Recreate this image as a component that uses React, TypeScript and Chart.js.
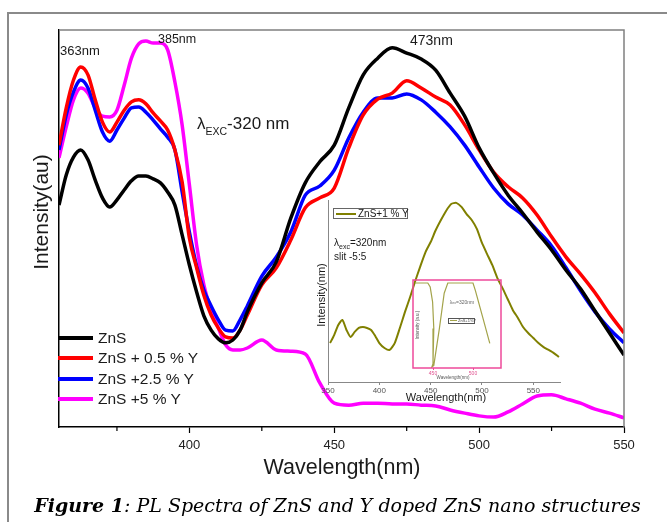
import React, { useEffect, useRef } from "react";
import { Chart, registerables } from "chart.js";
Chart.register(...registerables);

// ---------- main chart data ----------
const wavelengths = [355, 357.5, 360, 362.5, 365, 367.5, 370, 372.5, 375, 377.5, 380, 382.5, 385, 387.5, 390, 392.5, 395, 397.5, 400, 402.5, 405, 407.5, 410, 412.5, 415, 417.5, 420, 425, 430, 435, 440, 445, 450, 455, 460, 465, 470, 475, 480, 485, 490, 495, 500, 505, 510, 515, 520, 525, 530, 535, 540, 545, 550];
const znsPure = [55.9, 63.5, 68.0, 69.8, 67.3, 62.2, 57.7, 55.4, 57.2, 59.7, 62.0, 63.2, 63.2, 62.5, 61.5, 59.2, 55.9, 48.4, 40.8, 34.0, 28.0, 24.4, 22.2, 21.2, 21.9, 24.4, 29.0, 36.3, 41.6, 52.6, 61.5, 66.8, 71.0, 80.4, 88.7, 92.9, 95.5, 94.2, 92.7, 89.9, 84.1, 78.3, 70.3, 64.0, 58.4, 53.9, 49.1, 44.6, 39.5, 34.8, 29.2, 23.7, 18.1];
const zns05Y = [71.0, 80.4, 87.4, 90.7, 88.7, 82.4, 76.8, 74.3, 76.8, 79.8, 81.9, 82.4, 81.4, 79.1, 77.1, 74.8, 69.8, 61.7, 47.6, 40.1, 33.2, 28.2, 24.9, 22.7, 22.4, 24.4, 28.2, 35.8, 40.1, 47.1, 55.2, 57.7, 60.2, 70.3, 78.6, 82.6, 84.1, 87.2, 85.4, 83.1, 81.1, 76.1, 69.8, 64.2, 60.5, 57.7, 53.4, 47.9, 42.8, 38.5, 33.8, 28.5, 23.7];
const zns25Y = [69.8, 78.6, 84.4, 87.4, 85.4, 79.8, 74.3, 72.0, 74.8, 77.8, 80.4, 80.6, 79.3, 77.3, 75.1, 73.0, 69.8, 59.2, 49.1, 40.6, 34.5, 30.5, 27.0, 24.4, 24.2, 27.0, 30.5, 38.0, 42.8, 49.1, 58.4, 60.7, 64.7, 72.8, 79.3, 82.9, 82.9, 83.9, 82.4, 79.3, 75.6, 71.0, 65.5, 60.2, 56.2, 53.4, 49.6, 45.6, 40.1, 34.3, 29.0, 24.7, 21.2];
const zns5Y = [67.8, 75.6, 82.4, 85.4, 84.1, 80.4, 78.3, 78.1, 79.8, 86.1, 92.9, 96.5, 97.2, 96.7, 96.7, 95.0, 86.9, 76.1, 61.0, 45.8, 35.8, 29.5, 24.9, 20.7, 19.4, 19.4, 19.9, 21.9, 19.4, 19.1, 18.4, 11.1, 6.0, 5.5, 6.0, 6.0, 5.8, 5.8, 5.5, 5.3, 4.3, 3.5, 2.8, 2.5, 3.8, 5.8, 7.8, 8.1, 7.1, 6.0, 4.5, 3.5, 2.3];
const seriesLabels = ["ZnS", "ZnS + 0.5 % Y", "ZnS +2.5 % Y", "ZnS +5 % Y"];
const seriesColors = ["#000000", "#ff0000", "#0000ff", "#ff00ff"];
const xTicks = [400, 450, 500, 550];
const xMinorTicks = [375, 425, 475, 525];

// ---------- inset data ----------
const insetWavelengths = [352, 356, 360, 364, 368, 372, 376, 380, 384, 388, 392, 396, 400, 405, 410, 415, 420, 425, 430, 435, 440, 445, 450, 455, 460, 465, 470, 475, 480, 485, 490, 495, 500, 505, 510, 515, 520, 525, 530, 535, 540, 545, 550, 555, 560, 565, 570, 575];
const insetZnS1Y = [21.4, 25.8, 31.3, 34.1, 28.6, 24.7, 27.5, 29.7, 30.2, 29.7, 28.6, 25.3, 21.4, 18.7, 17.6, 21.4, 29.7, 38.5, 46.7, 55.5, 63.7, 71.4, 76.9, 83.5, 89.0, 94.0, 97.8, 98.4, 96.2, 92.3, 89.0, 84.1, 76.4, 70.3, 64.3, 57.1, 51.6, 45.6, 39.6, 35.2, 30.2, 26.9, 24.2, 21.4, 19.2, 17.6, 15.9, 13.7];
const insetTicks = [350, 400, 450, 500, 550];

// ---------- nested (tiny) inset data ----------
const nestedX = [427.5, 443.5, 446.5, 449.5, 451, 450, 448.5, 451, 458, 464, 468.5, 500, 503, 512, 521];
const nestedY = [96.6, 96.6, 92, 75, 45, 5, 1, 3, 45, 85, 96.6, 96.6, 88, 58, 28];
const nestedTicks = [450, 500];

const FONT = "'Liberation Sans', Arial, sans-serif";
const TXT = "#1a1a1a";

const setTicks = (vals: number[]) => (s: any) => {
  s.ticks = vals.map((v) => ({ value: v }));
};

const mainDecor = {
  id: "mainDecor",
  afterDraw(chart: any) {
    const { ctx, chartArea: a } = chart;
    const xs = chart.scales.x;
    ctx.save();
    ctx.strokeStyle = "#808080";
    ctx.lineWidth = 1.5;
    ctx.beginPath();
    ctx.moveTo(a.left, a.top);
    ctx.lineTo(a.right, a.top);
    ctx.lineTo(a.right, a.bottom);
    ctx.stroke();
    ctx.strokeStyle = "#000";
    ctx.lineWidth = 1.2;
    ctx.beginPath();
    xMinorTicks.forEach((v) => {
      const px = xs.getPixelForValue(v);
      ctx.moveTo(px, a.bottom);
      ctx.lineTo(px, a.bottom + 4);
    });
    ctx.stroke();
    ctx.restore();
  },
};

const nestedBox = {
  id: "nestedBox",
  afterDraw(chart: any) {
    const { ctx, chartArea: a } = chart;
    ctx.save();
    ctx.strokeStyle = "#ee4a9a";
    ctx.lineWidth = 1.5;
    ctx.strokeRect(a.left, a.top, a.right - a.left, a.bottom - a.top);
    ctx.restore();
  },
};

export default function App() {
  const mainRef = useRef<HTMLCanvasElement>(null);
  const insetRef = useRef<HTMLCanvasElement>(null);
  const nestedRef = useRef<HTMLCanvasElement>(null);

  useEffect(() => {
    const seriesValues = [znsPure, zns05Y, zns25Y, zns5Y];
    const main = new Chart(mainRef.current as HTMLCanvasElement, {
      type: "line",
      data: {
        datasets: seriesValues.map((vals, i) => ({
          label: seriesLabels[i],
          data: wavelengths.map((w, j) => ({ x: w, y: vals[j] })),
          borderColor: seriesColors[i],
          borderWidth: 3.5,
          pointRadius: 0,
          cubicInterpolationMode: "monotone",
          fill: false,
        })),
      },
      options: {
        responsive: false,
        animation: false,
        events: [],
        layout: { padding: { left: 0, top: 30, right: 43, bottom: 0 } },
        plugins: { legend: { display: false }, tooltip: { enabled: false } },
        scales: {
          x: {
            type: "linear",
            min: 355,
            max: 550,
            afterBuildTicks: setTicks(xTicks),
            afterFit: (s: any) => {
              s.height = 95;
            },
            ticks: { font: { family: FONT, size: 13 }, color: "#222", padding: 5, maxRotation: 0, autoSkip: false },
            grid: { drawOnChartArea: false, drawTicks: true, tickLength: 6, color: "#000", tickWidth: 1.2 },
            border: { display: true, color: "#000", width: 1.5 },
          },
          y: {
            min: 0,
            max: 100,
            afterFit: (s: any) => {
              s.width = 59;
            },
            ticks: { display: false },
            grid: { display: false },
            border: { display: true, color: "#000", width: 1.5 },
          },
        },
      } as any,
      plugins: [mainDecor],
    });

    const inset = new Chart(insetRef.current as HTMLCanvasElement, {
      type: "line",
      data: {
        datasets: [
          {
            label: "ZnS+1 % Y",
            data: insetWavelengths.map((w, j) => ({ x: w, y: insetZnS1Y[j] })),
            borderColor: "#808000",
            borderWidth: 2,
            pointRadius: 0,
            tension: 0.2,
            fill: false,
          },
        ],
      },
      options: {
        responsive: false,
        animation: false,
        events: [],
        layout: { padding: { left: 0, top: 5, right: 5, bottom: 0 } },
        plugins: { legend: { display: false }, tooltip: { enabled: false } },
        scales: {
          x: {
            type: "linear",
            min: 350,
            max: 576,
            afterBuildTicks: setTicks(insetTicks),
            afterFit: (s: any) => {
              s.height = 23;
            },
            ticks: { font: { family: FONT, size: 8 }, color: "#555", padding: 1, maxRotation: 0, autoSkip: false },
            grid: { drawOnChartArea: false, tickLength: 3, color: "#888" },
            border: { display: true, color: "#888", width: 1 },
          },
          y: {
            min: 0,
            max: 100,
            afterFit: (s: any) => {
              s.width = 28;
            },
            ticks: { display: false },
            grid: { display: false },
            border: { display: true, color: "#888", width: 1 },
          },
        },
      } as any,
    });

    const nested = new Chart(nestedRef.current as HTMLCanvasElement, {
      type: "line",
      data: {
        datasets: [
          {
            label: "ZnS+1%Y",
            data: nestedX.map((x, j) => ({ x, y: nestedY[j] })),
            borderColor: "#a3a34a",
            borderWidth: 1.2,
            pointRadius: 0,
            tension: 0,
            fill: false,
          },
        ],
      },
      options: {
        responsive: false,
        animation: false,
        events: [],
        layout: { padding: { left: 0, top: 4, right: 4, bottom: 0 } },
        plugins: { legend: { display: false }, tooltip: { enabled: false } },
        scales: {
          x: {
            type: "linear",
            min: 425,
            max: 535,
            afterBuildTicks: setTicks(nestedTicks),
            afterFit: (s: any) => {
              s.height = 18;
            },
            ticks: { font: { family: FONT, size: 5 }, color: "#e0508f", padding: 1, maxRotation: 0, autoSkip: false },
            grid: { drawOnChartArea: false, tickLength: 2, color: "#ee4a9a" },
            border: { display: false },
          },
          y: {
            min: 0,
            max: 100,
            afterFit: (s: any) => {
              s.width = 8;
            },
            ticks: { display: false },
            grid: { display: false },
            border: { display: false },
          },
        },
      } as any,
      plugins: [nestedBox],
    });

    return () => {
      main.destroy();
      inset.destroy();
      nested.destroy();
    };
  }, []);

  const abs = (s: React.CSSProperties): React.CSSProperties => ({ position: "absolute", whiteSpace: "nowrap", ...s });
  const legendY = [338, 358, 379, 399];

  return (
    <div style={{ position: "absolute", left: 0, top: 0, width: 667, height: 522, overflow: "hidden", background: "#fff", fontFamily: FONT, color: TXT }}>
      <div style={abs({ left: 7, top: 12, width: 680, height: 540, borderTop: "2px solid #8a8a8a", borderLeft: "2px solid #8a8a8a", boxSizing: "border-box" })} />
      <canvas ref={mainRef} width={667} height={522} style={{ position: "absolute", left: 0, top: 0, width: 667, height: 522 }} />
      <canvas ref={insetRef} width={265} height={210} style={{ position: "absolute", left: 300, top: 195, width: 265, height: 210 }} />
      <canvas ref={nestedRef} width={100} height={110} style={{ position: "absolute", left: 405, top: 276, width: 100, height: 110 }} />

      {/* main axis titles */}
      <div style={abs({ left: 40, top: 212, fontSize: 21, transform: "translate(-50%,-50%) rotate(-90deg)", lineHeight: 1 })}>Intensity(au)</div>
      <div style={abs({ left: 342, top: 468, fontSize: 21.5, transform: "translate(-50%,-50%)", lineHeight: 1 })}>Wavelength(nm)</div>

      {/* peak annotations */}
      <div style={abs({ left: 60, top: 50, fontSize: 13, transform: "translateY(-50%)", lineHeight: 1 })}>363nm</div>
      <div style={abs({ left: 158, top: 39, fontSize: 12.5, transform: "translateY(-50%)", lineHeight: 1 })}>385nm</div>
      <div style={abs({ left: 410, top: 40, fontSize: 14, transform: "translateY(-50%)", lineHeight: 1 })}>473nm</div>
      <div style={abs({ left: 197, top: 123, fontSize: 17, transform: "translateY(-50%)", lineHeight: 1 })}>
        λ<span style={{ fontSize: 10.5, position: "relative", top: 6 }}>EXC</span>-320 nm
      </div>

      {/* main legend */}
      {seriesLabels.map((lab, i) => (
        <React.Fragment key={lab}>
          <div style={abs({ left: 58, top: legendY[i] - 2, width: 35, height: 4, background: seriesColors[i] })} />
          <div style={abs({ left: 98, top: legendY[i], fontSize: 15.5, transform: "translateY(-50%)", lineHeight: 1 })}>{lab}</div>
        </React.Fragment>
      ))}

      {/* inset texts */}
      <div style={abs({ left: 333, top: 208, width: 75, height: 11, border: "1px solid #666", boxSizing: "border-box", background: "#fff" })} />
      <div style={abs({ left: 336, top: 212.5, width: 20, height: 2, background: "#808000" })} />
      <div style={abs({ left: 358, top: 213.5, fontSize: 10, transform: "translateY(-50%)", lineHeight: 1 })}>ZnS+1 % Y</div>
      <div style={abs({ left: 334, top: 243, fontSize: 10, transform: "translateY(-50%)", lineHeight: 1 })}>
        λ<span style={{ fontSize: 7, position: "relative", top: 3 }}>exc</span>=320nm
      </div>
      <div style={abs({ left: 334, top: 257, fontSize: 10, transform: "translateY(-50%)", lineHeight: 1 })}>slit -5:5</div>
      <div style={abs({ left: 321, top: 295, fontSize: 11, transform: "translate(-50%,-50%) rotate(-90deg)", lineHeight: 1 })}>Intensity(nm)</div>
      <div style={abs({ left: 446, top: 397, fontSize: 11, transform: "translate(-50%,-50%)", lineHeight: 1 })}>Wavelength(nm)</div>

      {/* nested tiny texts */}
      <div style={abs({ left: 418, top: 325, fontSize: 4.5, color: "#555", transform: "translate(-50%,-50%) rotate(-90deg)", lineHeight: 1 })}>Intensity (a.u.)</div>
      <div style={abs({ left: 462, top: 303, fontSize: 5, color: "#666", transform: "translate(-50%,-50%)", lineHeight: 1 })}>λ<span style={{ fontSize: 3.5 }}>ex</span>=320nm</div>
      <div style={abs({ left: 448, top: 317.5, width: 27, height: 6, border: "0.8px solid #555", boxSizing: "border-box", background: "#fff" })} />
      <div style={abs({ left: 450, top: 320, width: 7, height: 1, background: "#a3a34a" })} />
      <div style={abs({ left: 458, top: 320.5, fontSize: 4, color: "#444", transform: "translateY(-50%)", lineHeight: 1 })}>ZnS+1%Y</div>
      <div style={abs({ left: 453, top: 378, fontSize: 4.5, color: "#555", transform: "translate(-50%,-50%)", lineHeight: 1 })}>Wavelength(nm)</div>

      {/* caption */}
      <div style={abs({ left: 0, width: 675, top: 505, textAlign: "center", fontFamily: "'DejaVu Serif', serif", fontStyle: "italic", fontSize: 19, color: "#000", transform: "translateY(-50%)", lineHeight: 1 })}>
        <b>Figure 1</b>: PL Spectra of ZnS and Y doped ZnS nano structures
      </div>
    </div>
  );
}
